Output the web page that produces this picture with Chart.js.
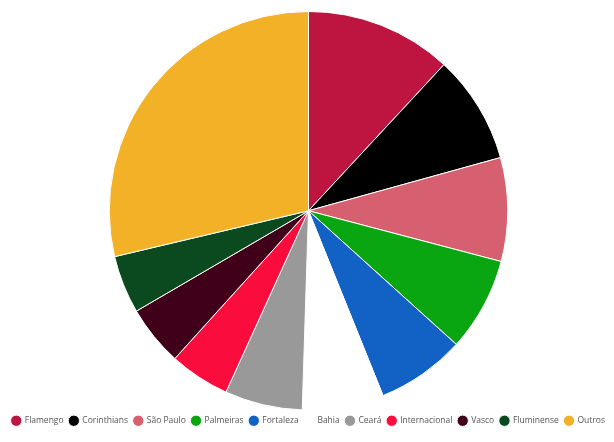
<!DOCTYPE html>
<html>
<head>
<meta charset="utf-8">
<script src="https://cdn.jsdelivr.net/npm/chart.js@4"></script>
<style>
  html, body { margin: 0; padding: 0; background: #fff; }
  #wrap { width: 614px; height: 442px; }
</style>
</head>
<body>
<div id="wrap"><canvas id="chart"></canvas></div>
<script>
// clubs and their share (%)
const clubs = ['Flamengo', 'Corinthians', 'São Paulo', 'Palmeiras', 'Fortaleza', 'Bahia', 'Ceará', 'Internacional', 'Vasco', 'Fluminense', 'Outros'];
const shares = [11.9, 8.8, 8.4, 7.6, 7.2, 6.6, 6.3, 4.9, 4.9, 4.7, 28.7];
const clubColors = ['#BE1540', '#000000', '#D6606F', '#0AA612', '#1261C4', '#FFFFFF', '#999999', '#FA0C3C', '#40001A', '#0B4A1E', '#F3B128'];

new Chart(document.getElementById('chart'), {
  type: 'pie',
  data: {
    labels: clubs,
    datasets: [{
      data: shares,
      backgroundColor: clubColors,
      borderColor: '#ffffff',
      borderWidth: 1
    }]
  },
  options: {
    responsive: true,
    maintainAspectRatio: false,
    animation: false,
    layout: { padding: { top: 11, left: 3, bottom: 7 } },
    plugins: {
      tooltip: { enabled: false },
      legend: {
        position: 'bottom',
        labels: {
          usePointStyle: true,
          pointStyle: 'circle',
          boxWidth: 8.5,
          boxHeight: 8,
          padding: 6,
          color: '#555',
          font: { family: 'Open Sans', size: 8.5 }
        }
      }
    }
  }
});
</script>
</body>
</html>
